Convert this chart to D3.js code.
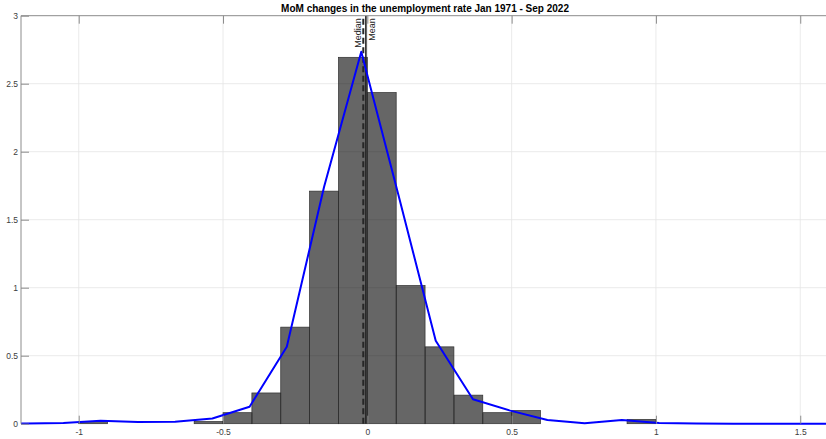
<!DOCTYPE html>
<html>
<head>
<meta charset="utf-8">
<script src="https://cdn.jsdelivr.net/npm/d3@7"></script>
<style>
  html, body { margin: 0; padding: 0; background: #fff; }
  svg { display: block; font-family: "Liberation Sans", Arial, Helvetica, sans-serif; }
</style>
</head>
<body>
<svg id="chart" width="826" height="439"></svg>
<script>
// Histogram of monthly changes (probability density, 0.1-wide bins)
const binEdges = [-1.0, -0.9, -0.8, -0.7, -0.6, -0.5, -0.4, -0.3, -0.2, -0.1, 0.0,
                  0.1, 0.2, 0.3, 0.4, 0.5, 0.6, 0.7, 0.8, 0.9, 1.0];
const binDensity = [0.016, 0, 0, 0, 0.016, 0.081, 0.226, 0.71, 1.71, 2.694,
                    2.435, 1.016, 0.565, 0.21, 0.081, 0.097, 0, 0, 0, 0.032];

// Kernel density estimate evaluated on a regular grid
const kdeX = [-1.311, -1.182, -1.053, -0.924, -0.795, -0.666, -0.537, -0.408, -0.279, -0.150,
              -0.021, 0.108, 0.237, 0.366, 0.495, 0.624, 0.753, 0.882, 1.011, 1.140,
              1.269, 1.398, 1.527, 1.656];
const kdeY = [0.0, 0.001, 0.006, 0.021, 0.013, 0.015, 0.038, 0.125, 0.566, 1.74,
              2.735, 1.68, 0.61, 0.18, 0.096, 0.027, 0.003, 0.028, 0.006, 0.001,
              0.0005, 0.0, 0.0, 0.0];

// Summary statistics
const medianValue = -0.014;
const meanValue = -0.005;

const xTicks = [-1, -0.5, 0, 0.5, 1, 1.5];
const yTicks = [0, 0.5, 1, 1.5, 2, 2.5, 3];
const titleText = "MoM changes in the unemployment rate Jan 1971 - Sep 2022";

const svg = d3.select("#chart");
const plotL = 21, plotR = 829.1, plotT = 15.7, plotB = 423.7;

const x = d3.scaleLinear().domain([-1.2, 1.6]).range([plotL, plotR]);
const y = d3.scaleLinear().domain([0, 3]).range([plotB, plotT]);

svg.append("defs").append("clipPath").attr("id", "plotClip")
  .append("rect").attr("x", plotL).attr("y", plotT - 2)
  .attr("width", plotR - plotL).attr("height", plotB - plotT + 4);

// grid
const grid = svg.append("g").attr("stroke", "#e4e4e4").attr("stroke-width", 0.8);
grid.selectAll("line.gx").data(xTicks).join("line")
  .attr("x1", d => x(d)).attr("x2", d => x(d)).attr("y1", plotT).attr("y2", plotB);
grid.selectAll("line.gy").data(yTicks.slice(1, -1)).join("line")
  .attr("y1", d => y(d)).attr("y2", d => y(d)).attr("x1", plotL).attr("x2", plotR);

// histogram bars
const bins = binDensity.map((v, i) => ({ x0: binEdges[i], x1: binEdges[i + 1], v }))
  .filter(b => b.v > 0);
svg.append("g").selectAll("rect").data(bins).join("rect")
  .attr("x", d => x(d.x0))
  .attr("width", d => x(d.x1) - x(d.x0))
  .attr("y", d => y(d.v))
  .attr("height", d => y(0) - y(d.v))
  .attr("fill", "#000").attr("fill-opacity", 0.6)
  .attr("stroke", "#2e2e2e").attr("stroke-width", 0.7);

// median and mean reference lines
svg.append("line")
  .attr("x1", x(medianValue)).attr("x2", x(medianValue))
  .attr("y1", y(0)).attr("y2", y(3))
  .attr("stroke", "#262626").attr("stroke-width", 2)
  .attr("stroke-dasharray", "6,3.5");
svg.append("line")
  .attr("x1", x(meanValue)).attr("x2", x(meanValue))
  .attr("y1", y(0)).attr("y2", y(3))
  .attr("stroke", "#262626").attr("stroke-width", 1.6);

svg.append("text")
  .attr("transform", `translate(${x(medianValue) - 2.5},${plotT + 2.5}) rotate(-90)`)
  .attr("text-anchor", "end").attr("font-size", 9).attr("fill", "#262626")
  .text("Median");
svg.append("text")
  .attr("transform", `translate(${x(meanValue) + 9},${plotT + 2.5}) rotate(-90)`)
  .attr("text-anchor", "end").attr("font-size", 9).attr("fill", "#262626")
  .text("Mean");

// density line
const line = d3.line().x((d, i) => x(kdeX[i])).y(d => y(d));
svg.append("path").datum(kdeY)
  .attr("clip-path", "url(#plotClip)")
  .attr("d", line)
  .attr("fill", "none").attr("stroke", "#0000ff").attr("stroke-width", 2)
  .attr("stroke-linejoin", "round");

// axes box
const axisColor = "#8c8c8c";
svg.append("path")
  .attr("d", `M${plotL},${plotB}V${plotT}H${plotR}`)
  .attr("fill", "none").attr("stroke", axisColor).attr("stroke-width", 1);

// ticks (inward) using d3 axes
const tickLen = 8;
const fmt = d => String(d);
const yAxis = svg.append("g").attr("transform", `translate(${plotL},0)`)
  .call(d3.axisLeft(y).tickValues(yTicks).tickSize(-tickLen).tickPadding(3)
        .tickFormat(fmt));
yAxis.select(".domain").remove();
yAxis.selectAll(".tick line").attr("stroke", axisColor);
yAxis.selectAll(".tick text").attr("font-size", 8.5).attr("fill", "#3c3c3c")
  .attr("font-family", "Liberation Sans, Arial, sans-serif");

const xAxis = svg.append("g").attr("transform", `translate(0,${plotB})`)
  .call(d3.axisBottom(x).tickValues(xTicks).tickSize(-tickLen).tickPadding(5.3)
        .tickFormat(fmt));
xAxis.select(".domain").remove();
xAxis.selectAll(".tick line").attr("stroke", axisColor);
xAxis.selectAll(".tick text").attr("font-size", 8.5).attr("fill", "#3c3c3c")
  .attr("font-family", "Liberation Sans, Arial, sans-serif");

const xTop = svg.append("g").attr("transform", `translate(0,${plotT})`)
  .call(d3.axisTop(x).tickValues(xTicks).tickSize(-tickLen).tickFormat(""));
xTop.select(".domain").remove();
xTop.selectAll(".tick line").attr("stroke", axisColor);

// title
svg.append("text")
  .attr("x", (plotL + plotR) / 2).attr("y", 11.5)
  .attr("text-anchor", "middle").attr("font-size", 10).attr("font-weight", "bold")
  .attr("fill", "#000")
  .text(titleText);
</script>
</body>
</html>
